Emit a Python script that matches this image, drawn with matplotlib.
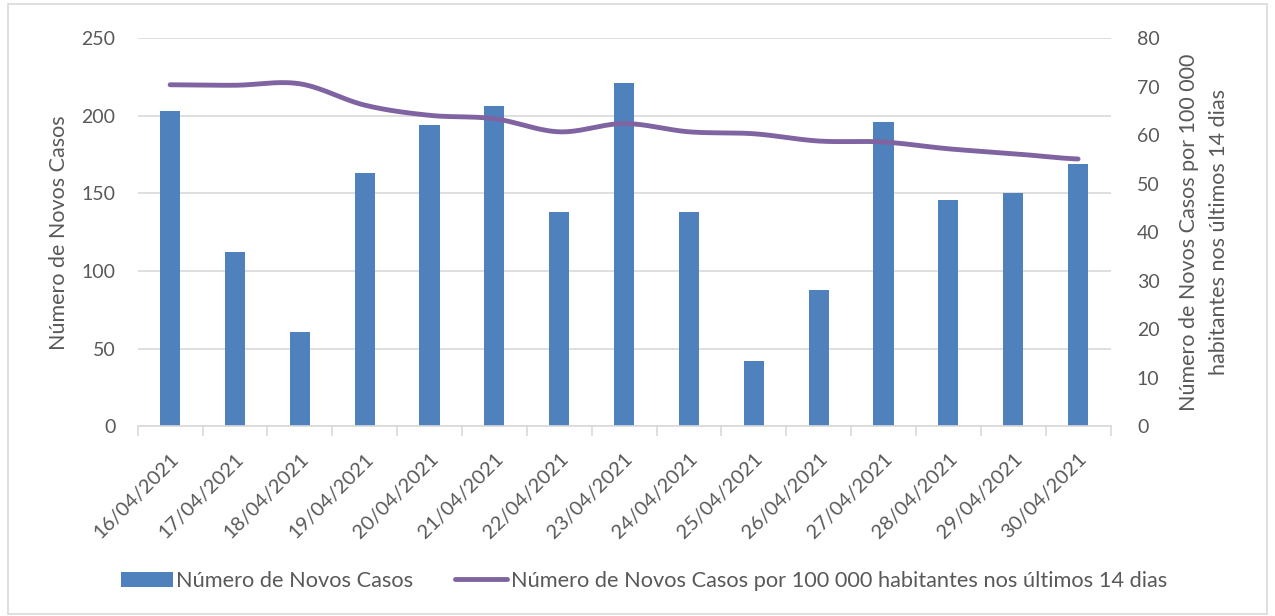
import matplotlib
matplotlib.use("Agg")
import matplotlib.pyplot as plt
import numpy as np
from matplotlib.patches import Rectangle, Patch
from matplotlib.lines import Line2D

dates = ["16/04/2021", "17/04/2021", "18/04/2021", "19/04/2021", "20/04/2021",
         "21/04/2021", "22/04/2021", "23/04/2021", "24/04/2021", "25/04/2021",
         "26/04/2021", "27/04/2021", "28/04/2021", "29/04/2021", "30/04/2021"]
novos_casos = [203, 112, 61, 163, 194, 206, 138, 221, 138, 42, 88, 196, 146, 150, 169]
incidencia_14d = [70.4, 70.3, 70.6, 66.2, 64.1, 63.4, 60.7, 62.4, 60.7, 60.3, 58.8, 58.6, 57.2, 56.2, 55.1]

label_bar = "Número de Novos Casos"
label_line = "Número de Novos Casos por 100 000 habitantes nos últimos 14 dias"

plt.rcParams['font.family'] = ['Lato', 'DejaVu Sans']
TXT = '#595959'
BAR = '#4f81bd'
LINE = '#8064a2'
GRID = '#d9d9d9'


def smooth(x, y, n=30):
    # Catmull-Rom style smoothing for drawing (Excel smoothed line)
    x = np.asarray(x, float); y = np.asarray(y, float)
    px = np.concatenate([[2 * x[0] - x[1]], x, [2 * x[-1] - x[-2]]])
    py = np.concatenate([[y[0]], y, [y[-1]]])
    xs, ys = [], []
    for i in range(1, len(px) - 2):
        t = np.linspace(0, 1, n, endpoint=False)
        p0, p1, p2, p3 = [np.array([px[j], py[j]]) for j in (i - 1, i, i + 1, i + 2)]
        c1 = p1 + (p2 - p0) / 6
        c2 = p2 - (p3 - p1) / 6
        for tt in t:
            b = ((1 - tt) ** 3) * p1 + 3 * ((1 - tt) ** 2) * tt * c1 + 3 * (1 - tt) * tt ** 2 * c2 + tt ** 3 * p2
            xs.append(b[0]); ys.append(b[1])
    xs.append(x[-1]); ys.append(y[-1])
    return np.array(xs), np.array(ys)


fig = plt.figure(figsize=(12.75, 6.16), dpi=100)
fig.patches.append(Rectangle((0.006, 0.004), 0.988, 0.99, transform=fig.transFigure,
                             fill=False, edgecolor=GRID, linewidth=1.2))

ax = fig.add_axes([0.108, 0.308, 0.763, 0.630])
x = np.arange(len(dates))
ax.bar(x, novos_casos, width=0.31, color=BAR, zorder=2)
ax.set_xlim(-0.5, len(dates) - 0.5)
ax.set_ylim(0, 250)
ax.set_yticks(range(0, 251, 50))
ax.grid(axis='y', color=GRID, linewidth=1.2, zorder=0)
ax.set_axisbelow(True)
for s in ['top', 'right', 'left']:
    ax.spines[s].set_visible(False)
ax.spines['bottom'].set_color(GRID)
ax.spines['bottom'].set_linewidth(1.2)
ax.set_xticks(x)
ax.set_xticklabels(dates, rotation=45, ha='right', rotation_mode='anchor', color=TXT, fontsize=14.5)
ax.tick_params(axis='x', which='major', length=0, pad=17)
ax.set_xticks(np.arange(-0.5, len(dates), 1), minor=True)
ax.tick_params(axis='x', which='minor', length=7, color=GRID, width=1.2)
ax.tick_params(axis='y', length=0, labelcolor=TXT, labelsize=14, pad=16)
ax.set_ylabel(label_bar, color=TXT, fontsize=15.5, labelpad=9)

ax2 = ax.twinx()
ax2.set_ylim(0, 80)
ax2.set_yticks(range(0, 81, 10))
for s in ax2.spines.values():
    s.set_visible(False)
ax2.tick_params(axis='y', length=0, labelcolor=TXT, labelsize=14, pad=19)
sx, sy = smooth(x, incidencia_14d)
ax2.plot(sx, sy, color=LINE, linewidth=3.5, solid_capstyle='round', zorder=3)
ax2.set_ylabel("Número de Novos Casos por 100 000\nhabitantes nos últimos 14 dias",
               color=TXT, fontsize=15.5, labelpad=14, linespacing=1.6)

handles = [Patch(facecolor=BAR, label=label_bar),
           Line2D([0], [0], color=LINE, linewidth=3.5, solid_capstyle='round', label=label_line)]
fig.legend(handles=handles, loc='center', bbox_to_anchor=(0.505, 0.057), ncol=2, frameon=False,
           fontsize=15.7, labelcolor=TXT, handlelength=2.4, handletextpad=0.15, columnspacing=1.9)

fig.savefig("out.png", dpi=100)
